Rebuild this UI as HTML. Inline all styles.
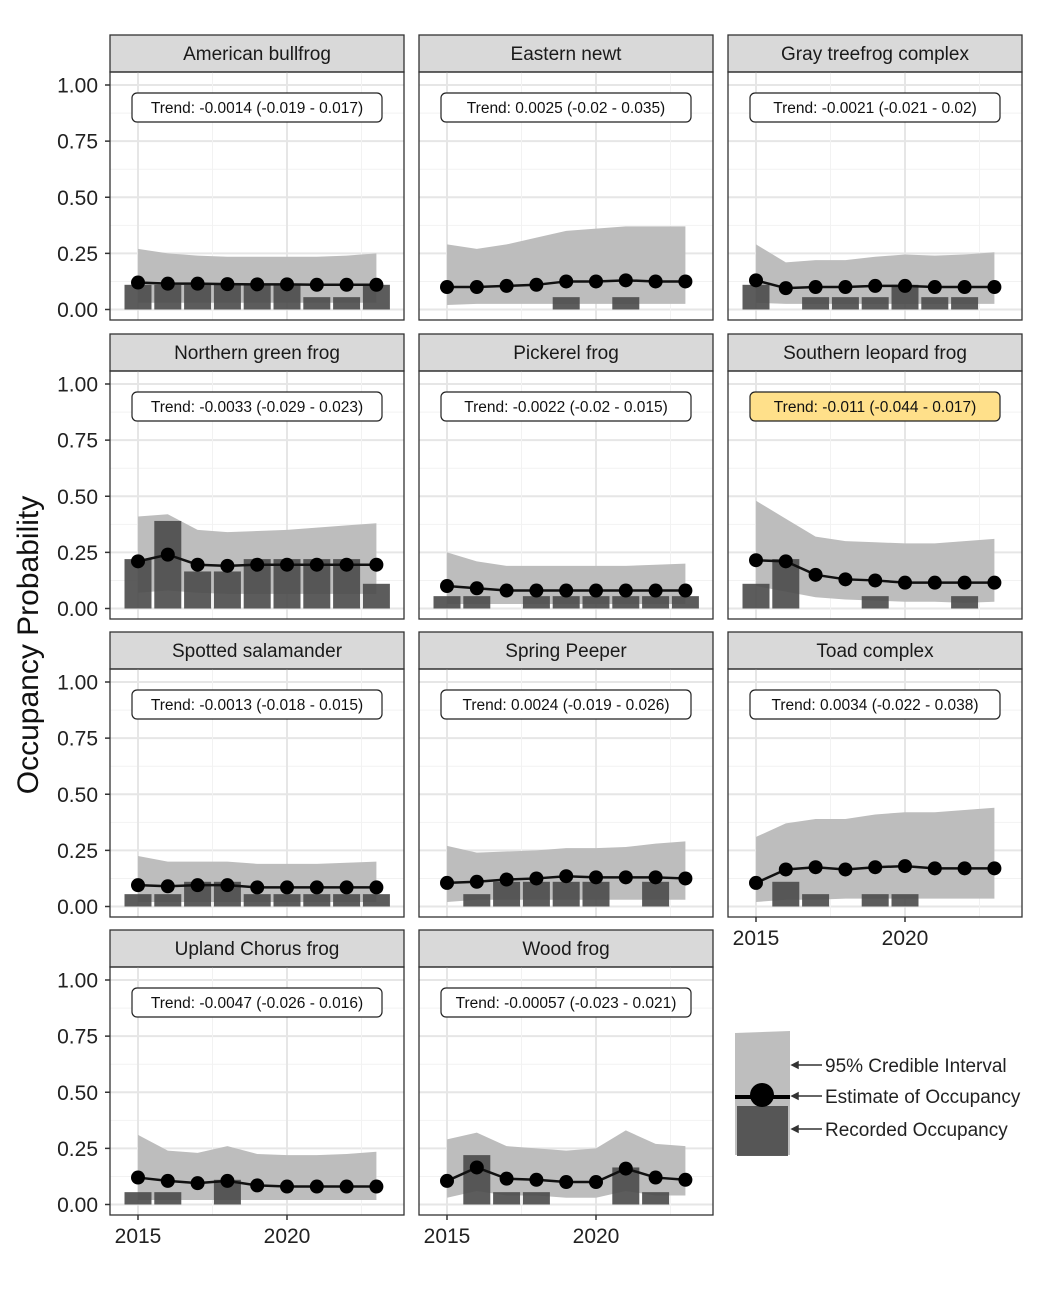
<!DOCTYPE html>
<html><head><meta charset="utf-8"><style>
body{margin:0;background:#fff;}
svg{display:block;font-family:"Liberation Sans",sans-serif;}
</style></head><body>
<svg id="chart" width="1047" height="1300" viewBox="0 0 1047 1300" xmlns="http://www.w3.org/2000/svg">
<text transform="translate(38,645) rotate(-90)" text-anchor="middle" font-size="30" fill="#111">Occupancy Probability</text>
<g id="panels"></g>
<g>
<path d="M735,1033 L790,1031 L790,1155 L735,1155 Z" fill="#bebebe"/>
<rect x="737" y="1106" width="51" height="50" fill="#4a4a4a" opacity="0.9"/>
<line x1="735" y1="1097" x2="790" y2="1097" stroke="#000" stroke-width="4"/>
<circle cx="762" cy="1095" r="12" fill="#000"/>
<g stroke="#333" stroke-width="1.5" fill="#333">
<line x1="793" y1="1065" x2="822" y2="1065"/><path d="M792,1065 l6,-3 v6z"/>
<line x1="793" y1="1096" x2="822" y2="1096"/><path d="M792,1096 l6,-3 v6z"/>
<line x1="793" y1="1129" x2="822" y2="1129"/><path d="M792,1129 l6,-3 v6z"/>
</g>
<text x="825" y="1072" font-size="19" fill="#222">95% Credible Interval</text>
<text x="825" y="1103" font-size="19" fill="#222">Estimate of Occupancy</text>
<text x="825" y="1136" font-size="19" fill="#222">Recorded Occupancy</text>
</g>
</svg>
<script>
const years=[2015,2016,2017,2018,2019,2020,2021,2022,2023];
const yTicks=[0,0.25,0.5,0.75,1];
const yTickLabels=["0.00","0.25","0.50","0.75","1.00"];
const xTicks=[2015,2020];
const species=["American bullfrog","Eastern newt","Gray treefrog complex","Northern green frog","Pickerel frog","Southern leopard frog","Spotted salamander","Spring Peeper","Toad complex","Upland Chorus frog","Wood frog"];
const trends=["Trend: -0.0014 (-0.019 - 0.017)","Trend: 0.0025 (-0.02 - 0.035)","Trend: -0.0021 (-0.021 - 0.02)","Trend: -0.0033 (-0.029 - 0.023)","Trend: -0.0022 (-0.02 - 0.015)","Trend: -0.011 (-0.044 - 0.017)","Trend: -0.0013 (-0.018 - 0.015)","Trend: 0.0024 (-0.019 - 0.026)","Trend: 0.0034 (-0.022 - 0.038)","Trend: -0.0047 (-0.026 - 0.016)","Trend: -0.00057 (-0.023 - 0.021)"];
const highlighted=[5];
const estimates=[
[.12,.115,.115,.113,.112,.112,.11,.11,.11],
[.10,.10,.105,.11,.125,.125,.13,.125,.125],
[.13,.095,.10,.10,.105,.105,.10,.10,.10],
[.21,.24,.195,.19,.195,.195,.195,.195,.195],
[.10,.09,.08,.08,.08,.08,.08,.08,.08],
[.215,.21,.15,.13,.125,.115,.115,.115,.115],
[.095,.09,.095,.095,.085,.085,.085,.085,.085],
[.105,.11,.12,.125,.135,.13,.13,.13,.125],
[.105,.165,.175,.165,.175,.18,.17,.17,.17],
[.12,.105,.095,.105,.085,.08,.08,.08,.08],
[.105,.165,.115,.11,.10,.10,.16,.12,.11]];
const recorded=[
[.11,.11,.11,.11,.11,.11,.055,.055,.11],
[0,0,0,0,.055,0,.055,0,0],
[.11,0,.055,.055,.055,.11,.055,.055,0],
[.22,.39,.165,.165,.22,.22,.22,.22,.11],
[.055,.055,0,.055,.055,.055,.055,.055,.055],
[.11,.22,0,0,.055,0,0,.055,0],
[.055,.055,.11,.11,.055,.055,.055,.055,.055],
[0,.055,.11,.11,.11,.11,0,.11,0],
[0,.11,.055,0,.055,.055,0,0,0],
[.055,.055,0,.11,0,0,0,0,0],
[0,.22,.055,.055,0,0,.165,.055,0]];
const upper=[
[.27,.25,.24,.235,.235,.235,.235,.24,.25],
[.29,.27,.29,.32,.35,.36,.37,.37,.37],
[.29,.21,.22,.22,.235,.245,.24,.245,.255],
[.41,.42,.35,.34,.345,.35,.36,.37,.38],
[.25,.21,.19,.19,.19,.19,.19,.195,.20],
[.48,.40,.32,.30,.295,.29,.29,.30,.31],
[.225,.20,.20,.20,.19,.19,.19,.195,.20],
[.27,.24,.245,.25,.26,.26,.265,.28,.29],
[.31,.37,.39,.39,.41,.42,.42,.43,.44],
[.31,.24,.23,.26,.225,.22,.22,.225,.235],
[.29,.32,.26,.25,.24,.25,.33,.27,.26]];
const lower=[
[.03,.03,.03,.03,.03,.03,.03,.03,.03],
[.02,.025,.025,.025,.025,.025,.025,.025,.025],
[.03,.025,.025,.025,.025,.025,.025,.025,.025],
[.07,.08,.07,.065,.065,.065,.065,.065,.065],
[.02,.02,.02,.02,.02,.02,.02,.02,.02],
[.10,.075,.05,.04,.035,.03,.03,.025,.03],
[.02,.02,.02,.02,.02,.02,.02,.02,.02],
[.02,.03,.03,.03,.03,.03,.03,.03,.03],
[.02,.03,.03,.035,.035,.035,.035,.035,.035],
[.02,.02,.02,.02,.02,.02,.02,.02,.02],
[.03,.06,.04,.04,.03,.03,.06,.04,.04]];

const NS="http://www.w3.org/2000/svg";
const g=document.getElementById('panels');
function mk(tag,attrs,parent){const e=document.createElementNS(NS,tag);for(const k in attrs)e.setAttribute(k,attrs[k]);parent.appendChild(e);return e;}
const colX=[110,419,728], PW=294;
const rowTop=[72,371,669,967], PH=248;
species.forEach((name,i)=>{
  const c=i%3,r=Math.floor(i/3);
  const L=colX[c],T=rowTop[r];
  const yb=T+237.5, yt=T+13;
  const ys=v=>yb-(yb-yt)*v;
  const xs=yr=>L+28+(yr-2015)*29.8;
  const pg=mk('g',{},g);
  
  
  // strip
  const st=mk('rect',{x:L,y:T-37,width:PW,height:37,fill:'#d9d9d9',stroke:'#333','stroke-width':1.3},pg);
  
  const tt=mk('text',{x:L+PW/2,y:T-12,'text-anchor':'middle','font-size':19,fill:'#1a1a1a'},pg);
  
  tt.textContent=name;
  // grid
  [0.125,0.375,0.625,0.875].forEach(v=>mk('line',{x1:L,x2:L+PW,y1:ys(v),y2:ys(v),stroke:'#f2f2f2','stroke-width':1},pg));
  yTicks.forEach(v=>mk('line',{x1:L,x2:L+PW,y1:ys(v),y2:ys(v),stroke:'#e6e6e6','stroke-width':2},pg));
  [2017.5,2022.5].forEach(v=>mk('line',{x1:xs(v),x2:xs(v),y1:T,y2:T+PH,stroke:'#f2f2f2','stroke-width':1},pg));
  xTicks.forEach(v=>mk('line',{x1:xs(v),x2:xs(v),y1:T,y2:T+PH,stroke:'#e6e6e6','stroke-width':2},pg));
  // ribbon
  let d='M'+years.map((y,k)=>xs(y)+','+ys(upper[i][k])).join(' L')+' L'+years.slice().reverse().map((y,k)=>xs(y)+','+ys(lower[i][8-k])).join(' L')+' Z';
  const rb=mk('path',{d:d,fill:'#bdbdbd'},pg);
  
  // bars
  years.forEach((y,k)=>{const v=recorded[i][k];if(v<=0)return;
    const b=mk('rect',{x:xs(y)-13.5,y:ys(v),width:27,height:ys(0)-ys(v),fill:'#4a4a4a',opacity:0.9},pg);
    });
  // line
  const ln=mk('polyline',{points:years.map((y,k)=>xs(y)+','+ys(estimates[i][k])).join(' '),fill:'none',stroke:'#111','stroke-width':2.5},pg);
  
  years.forEach((y,k)=>{const p=mk('circle',{cx:xs(y),cy:ys(estimates[i][k]),r:7,fill:'#000'},pg);
    });
  // trend box
  const hl=highlighted.includes(i);
  const tb=mk('rect',{x:L+PW/2-125,y:T+21,width:250,height:29,rx:5,fill:hl?'#ffe08a':'#fff',stroke:'#222','stroke-width':1.2},pg);
  
  const tx=mk('text',{x:L+PW/2,y:T+41,'text-anchor':'middle','font-size':15.5,fill:'#111'},pg);
  
  tx.textContent=trends[i];
  // border
  mk('rect',{x:L,y:T,width:PW,height:PH,fill:'none',stroke:'#333','stroke-width':1.3},pg);
  // y axis
  if(c===0){yTicks.forEach((v,k)=>{mk('line',{x1:L-5,x2:L,y1:ys(v),y2:ys(v),stroke:'#333','stroke-width':1.5},pg);
    const t=mk('text',{x:L-12,y:ys(v)+7.5,'text-anchor':'end','font-size':21,fill:'#222'},pg);
    t.textContent=yTickLabels[k];});}
  // x axis
  if(r===3||i===8){xTicks.forEach(v=>{mk('line',{x1:xs(v),x2:xs(v),y1:T+PH,y2:T+PH+5,stroke:'#333','stroke-width':1.5},pg);
    const t=mk('text',{x:xs(v),y:T+PH+28,'text-anchor':'middle','font-size':21,fill:'#222'},pg);
    t.textContent=v;});}
});
</script>
</body></html>
